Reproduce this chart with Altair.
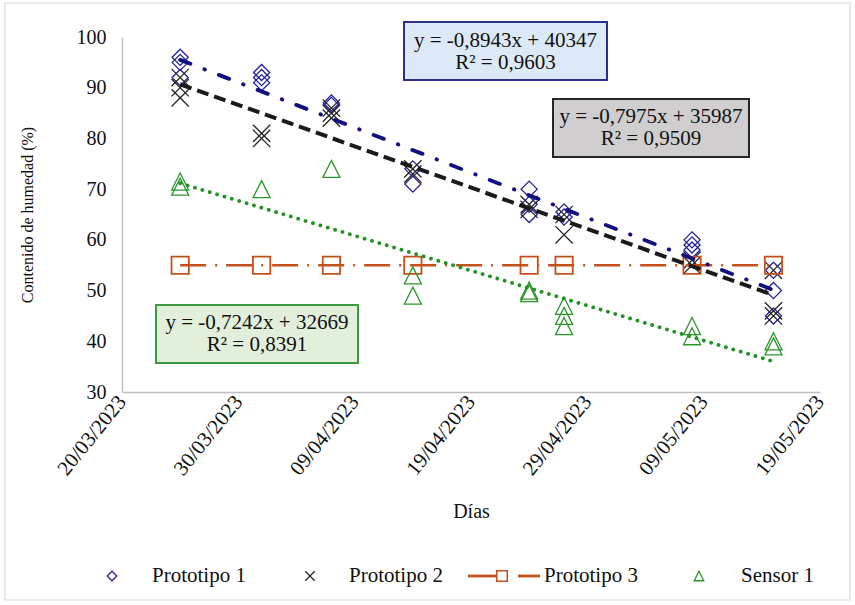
import altair as alt
import pandas as pd

# ---------------- data ----------------
dates = ["2023-03-25", "2023-04-01", "2023-04-07", "2023-04-14",
         "2023-04-24", "2023-04-27", "2023-05-08", "2023-05-15"]
series_names = ["Prototipo 1", "Prototipo 2", "Prototipo 3", "Sensor 1"]

p1_values = [[96, 95, 92], [93, 92, 91], [87, 86.5], [74, 71],
             [70, 67, 65], [65.5, 64.5], [60, 59, 58], [54, 50, 45]]
p2_values = [[92, 90, 88], [81, 80], [86, 85, 84], [74, 73],
             [67, 66], [65, 61], [56, 55], [54, 46, 45]]
p3_values = [[55], [55], [55], [55], [55], [55], [55], [55]]
s1_values = [[71.5, 70.5], [70], [74], [53, 49],
             [50, 49.5], [47, 45, 43], [43, 41], [40, 39]]

x_tick_dates = ["2023-03-20", "2023-03-30", "2023-04-09", "2023-04-19",
                "2023-04-29", "2023-05-09", "2023-05-19"]
y_ticks = [30, 40, 50, 60, 70, 80, 90, 100]

eq_lines = {
    "Prototipo 1": ["y = -0,8943x + 40347", "R² = 0,9603"],
    "Prototipo 2": ["y = -0,7975x + 35987", "R² = 0,9509"],
    "Sensor 1": ["y = -0,7242x + 32669", "R² = 0,8391"],
}

rows = []
for name, vals in zip(series_names, [p1_values, p2_values, p3_values, s1_values]):
    for d, vs in zip(dates, vals):
        for v in vs:
            rows.append({"date": d, "value": v, "series": name})
df = pd.DataFrame(rows)

# ---------------- styling ----------------
FONT = "Liberation Serif"
TXT = "#111111"
W, H = 698, 355
X_PATH = "M-1,-1L1,1M1,-1L-1,1"
TRI_PATH = "M0,-1L1,1L-1,1Z"

c_p1 = "#22229a"
c_p1_line = "#10107e"
c_p2 = "#262626"
c_p2_line = "#1a1a1a"
c_p3 = "#c5511a"
c_s1 = "#2b962b"
c_s1_line = "#259225"


def dt(s):
    y, m, d = [int(p) for p in s.split("-")]
    return alt.DateTime(year=y, month=m, date=d, utc=True)


x_scale = alt.Scale(type="utc", domain=[dt(x_tick_dates[0]), dt(x_tick_dates[-1])])
y_scale = alt.Scale(domain=[30, 100], nice=False, zero=False)

x_enc = alt.X(
    "t:T", scale=x_scale,
    axis=alt.Axis(
        title="Días", values=[dt(s) for s in x_tick_dates],
        labelExpr="utcFormat(datum.value, '%d/%m/%Y')",
        labelAngle=-51, labelAlign="right", labelBaseline="middle",
        labelPadding=6, labelFlush=False, labelOverlap=False, labelBound=False,
        labelFont=FONT, labelFontSize=21, labelColor=TXT,
        titleFont=FONT, titleFontSize=20, titleFontWeight="normal", titleColor=TXT,
        titleY=119, titleBaseline="middle",
        domainColor="#bfbfbf", domainWidth=1.4, ticks=False, grid=False,
    ),
)
y_enc = alt.Y(
    "value:Q", scale=y_scale,
    axis=alt.Axis(
        title="Contenido de humedad (%)", values=y_ticks, labelPadding=16,
        labelFont=FONT, labelFontSize=20, labelColor=TXT,
        titleFont=FONT, titleFontSize=16, titleFontWeight="normal", titleColor=TXT,
        titleX=-95, titleY=H / 2, titleBaseline="middle",
        domainColor="#bfbfbf", domainWidth=1.4, ticks=False, grid=False,
    ),
)

base = alt.Chart(df).transform_calculate(t="toDate(datum.date)")


def pts(name, shape, color, size):
    return base.transform_filter(alt.datum.series == name).mark_point(
        shape=shape, filled=False, stroke=color, strokeWidth=1.3, size=size, opacity=1
    ).encode(x=x_enc, y=y_enc)


def trend(name, color, dash, width, cap):
    return base.transform_filter(alt.datum.series == name).transform_regression(
        "t", "value"
    ).mark_line(color=color, strokeDash=dash, strokeWidth=width, strokeCap=cap).encode(
        x=x_enc, y=y_enc
    )


p1_pts = pts("Prototipo 1", "diamond", c_p1, 260)
p2_pts = pts("Prototipo 2", X_PATH, c_p2, 300)
p3_line = base.transform_filter(alt.datum.series == "Prototipo 3").mark_line(
    color=c_p3, strokeWidth=2.6, strokeDash=[26, 9, 2, 9]
).encode(x=x_enc, y=y_enc, order="t:T")
p3_pts = base.transform_filter(alt.datum.series == "Prototipo 3").mark_point(
    shape="square", filled=False, stroke=c_p3, strokeWidth=1.8, size=300, opacity=1
).encode(x=x_enc, y=y_enc)
s1_pts = pts("Sensor 1", TRI_PATH, c_s1, 290)

t1 = trend("Prototipo 1", c_p1_line, [11, 15, 0.5, 15], 3.8, "round")
t2 = trend("Prototipo 2", c_p2_line, [12, 6], 4, "butt")
t3 = trend("Sensor 1", c_s1_line, [0.1, 7.6], 3.8, "round")

# ---------------- equation boxes ----------------
boxes_cfg = [
    ("Prototipo 1", (282, 485, -15, 43), "#dce9f7", "#2e2e8c", (4, 26)),
    ("Prototipo 2", (431, 627, 62, 120), "#d0cece", "#262626", (80, 102)),
    ("Sensor 1", (34, 236, 268, 326), "#e2efda", "#3c9a3c", (286, 308)),
]
ann_layers = []
for name, (x1, x2, y1, y2), fill, stroke, (ty1, ty2) in boxes_cfg:
    bdf = pd.DataFrame({"line1": [eq_lines[name][0]], "line2": [eq_lines[name][1]]})
    bc = alt.Chart(bdf)
    ann_layers.append(
        bc.mark_rect(fill=fill, stroke=stroke, strokeWidth=2).encode(
            x=alt.value(x1), x2=alt.value(x2), y=alt.value(y1), y2=alt.value(y2)
        )
    )
    cx = (x1 + x2) / 2
    for field, ty in (("line1", ty1), ("line2", ty2)):
        ann_layers.append(
            bc.mark_text(font=FONT, fontSize=21, color=TXT, align="center",
                         baseline="middle").encode(
                x=alt.value(cx), y=alt.value(ty), text=f"{field}:N"
            )
        )

# ---------------- legend ----------------
LY = 539
leg_layers = []
leg_sym = [
    ("Prototipo 1", "diamond", c_p1, 90, -10, 30),
    ("Prototipo 2", X_PATH, c_p2, 90, 188, 227),
    ("Sensor 1", TRI_PATH, c_s1, 90, 577, 619),
]
for name, shape, color, size, sx, tx in leg_sym:
    ldf = pd.DataFrame({"s": [name]})
    lc = alt.Chart(ldf)
    leg_layers.append(
        lc.mark_point(shape=shape, filled=False, stroke=color, strokeWidth=1.3,
                      size=size, opacity=1).encode(x=alt.value(sx), y=alt.value(LY))
    )
    leg_layers.append(
        lc.mark_text(font=FONT, fontSize=21, color=TXT, align="left",
                     baseline="middle").encode(x=alt.value(tx), y=alt.value(LY), text="s:N")
    )
l3 = alt.Chart(pd.DataFrame({"s": ["Prototipo 3"]}))
leg_layers += [
    l3.mark_rule(color=c_p3, strokeWidth=2.8).encode(
        x=alt.value(346), x2=alt.value(374), y=alt.value(LY)),
    l3.mark_rule(color=c_p3, strokeWidth=2.8).encode(
        x=alt.value(396), x2=alt.value(418), y=alt.value(LY)),
    l3.mark_point(shape="square", filled=True, fill="white", stroke=c_p3, strokeWidth=1.5,
                  size=110, opacity=1).encode(x=alt.value(380), y=alt.value(LY)),
    l3.mark_text(font=FONT, fontSize=21, color=TXT, align="left",
                 baseline="middle").encode(x=alt.value(422), y=alt.value(LY), text="s:N"),
]

# outer chart border
border = alt.Chart(pd.DataFrame({"a": [0]})).mark_rect(
    fill=None, stroke="#d9d9d9", strokeWidth=1.2
).encode(x=alt.value(-117), x2=alt.value(728), y=alt.value(-34), y2=alt.value(563))

chart = alt.layer(
    border, p1_pts, p2_pts, p3_line, p3_pts, s1_pts, t1, t2, t3,
    *ann_layers, *leg_layers
).properties(
    width=W, height=H,
    autosize=alt.AutoSizeParams(type="none"),
    padding={"left": 122, "top": 37, "right": 35, "bottom": 213},
    background="white",
).configure_view(stroke=None).configure_axis(
    domainColor="#bfbfbf", domainWidth=1.4, ticks=False, grid=False,
    labelFont=FONT, labelFontSize=20, labelColor=TXT,
    titleFont=FONT, titleFontSize=20, titleFontWeight="normal", titleColor=TXT,
)

chart.save("out.html", embed_options={"renderer": "svg", "actions": False})
